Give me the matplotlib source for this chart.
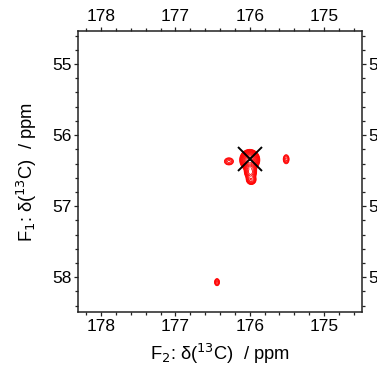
import numpy as np
import matplotlib
matplotlib.use("Agg")
import matplotlib.pyplot as plt
from matplotlib.ticker import MultipleLocator

plt.rcParams['font.family'] = ['Liberation Sans', 'DejaVu Sans']

# Peak list (F2 ppm, F1 ppm, width F2, width F1, amplitude)
peak_f2 = [176.00, 175.99, 175.98, 176.28, 175.51, 176.44]
peak_f1 = [56.35, 56.52, 56.63, 56.37, 56.34, 58.07]
peak_w2 = [0.050, 0.038, 0.034, 0.040, 0.026, 0.022]
peak_w1 = [0.055, 0.045, 0.035, 0.033, 0.042, 0.033]
peak_amp = [20.0, 5.0, 3.0, 1.6, 1.6, 1.6]

marker_f2 = [176.0]
marker_f1 = [56.33]

xticks = [178, 177, 176, 175]
yticks = [55, 56, 57, 58]

f2 = np.linspace(174.4, 178.4, 900)
f1 = np.linspace(54.4, 58.6, 900)
X, Y = np.meshgrid(f2, f1)
Z = np.zeros_like(X)
for a, b, w2, w1, amp in zip(peak_f2, peak_f1, peak_w2, peak_w1, peak_amp):
    Z += amp * np.exp(-((X - a) ** 2 / (2 * w2 ** 2) + (Y - b) ** 2 / (2 * w1 ** 2)))

fig = plt.figure(figsize=(3.77, 3.68), dpi=100)
ax = fig.add_axes([78 / 377, 1 - 312 / 368, 284 / 377, 281 / 368])
levels = 0.5 * 1.3 ** np.arange(0, 16)
ax.contour(X, Y, Z, levels=levels, colors='red', linewidths=0.6)
ax.plot(marker_f2, marker_f1, marker='x', color='black', markersize=17, mew=1.4, ls='none')

ax.set_xlim(178.31, 174.49)
ax.set_ylim(58.49, 54.535)
ax.set_xticks(xticks)
ax.set_yticks(yticks)
ax.xaxis.set_minor_locator(MultipleLocator(0.2))
ax.yaxis.set_minor_locator(MultipleLocator(0.2))
ax.tick_params(which='both', direction='out', top=True, right=True,
               labeltop=True, labelright=True, labelsize=12.5, width=0.9,
               color='#222222', pad=1.5)
ax.tick_params(which='major', length=3.2)
ax.tick_params(which='minor', length=2.2)
for s in ax.spines.values():
    s.set_linewidth(1.1)
    s.set_color('#222222')

ax.set_xlabel('F$_2$: δ($^{13}$C)  / ppm', fontsize=13.2, labelpad=6)
ax.set_ylabel('F$_1$: δ($^{13}$C)  / ppm', fontsize=13.2, labelpad=9)

fig.savefig('out.png', dpi=100)
